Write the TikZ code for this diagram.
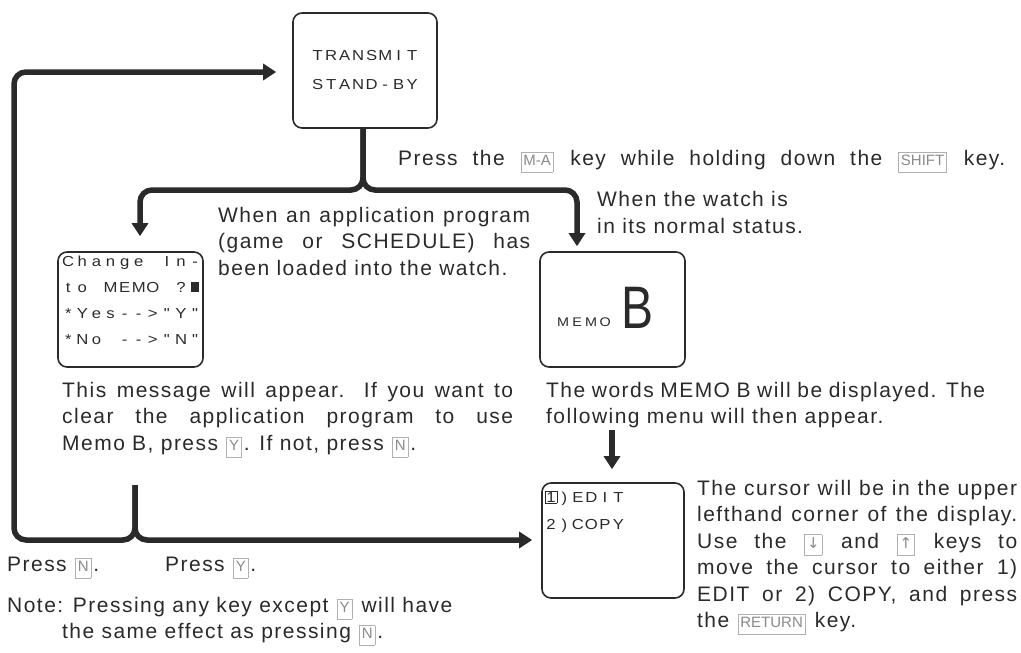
\documentclass[tikz,border=0pt]{standalone}
\usepackage{fontspec}
\setmainfont{Liberation Sans}
\newfontfamily\bodyf[LetterSpace=7]{Liberation Sans}
\newfontfamily\keyf{Liberation Sans}
\newfontfamily\symf{DejaVu Sans}
\newfontfamily\lcdf{Liberation Sans}
\usetikzlibrary{arrows.meta}
\definecolor{ink}{HTML}{2A2A2A}
\definecolor{keyline}{HTML}{B0B0B0}
\definecolor{keytext}{HTML}{8A8A8A}
\newcommand\kb[1]{\hspace{1pt}{\setlength\fboxsep{2pt}\setlength\fboxrule{0.7pt}\fcolorbox{keyline}{white}{\textcolor{keytext}{\keyf\fontsize{15}{15}\selectfont\strut #1}}}\hspace{2pt}}
\newcommand\jl[2]{\makebox[#1][s]{#2}}
\makeatletter
\newcommand\lcdline[2]{\@tfor\lcd@c:=#2\do{\makebox[#1]{\scalebox{1.15}[1]{\lcd@c}}}}
\makeatother
\newcommand\cur{\rule{7pt}{10pt}}
\newcommand\boxone{{\setlength\fboxsep{0.8pt}\setlength\fboxrule{0.6pt}\fbox{1}}}
\begin{document}
\begin{tikzpicture}[x=1pt,y=-1pt,
  txt/.style={inner sep=0pt, anchor=base west, align=left, text=ink,
    font=\bodyf\fontsize{21}{26.5}\selectfont},
  scr/.style={draw=ink, line width=1.6pt, rounded corners=9pt, minimum height=115pt},
  lcd/.style={inner sep=0pt, align=left, text=ink, font=\lcdf\fontsize{14.5}{26}\selectfont},
  conn/.style={draw=ink, line width=5.5pt, rounded corners=12pt, -{Triangle[width=16pt,length=13pt]}}]
\useasboundingbox (0,0) rectangle (1021,653);

% screens (multi-line nodes are placed by the baseline of their last line)
\node[scr, minimum width=144pt, align=center, text=ink, font=\lcdf\fontsize{14.5}{29}\selectfont] (tx) at (365,70.5)
  {\lcdline{13.5pt}{TRANSMIT}\\\lcdline{13.5pt}{STAND-BY}};
\node[scr, minimum width=145pt] (chg) at (130.5,309.5) {};
\node[lcd, anchor=base west] (chgt) at (61,344)
  {\lcdline{14.1pt}{Change~In-}\\\lcdline{14.1pt}{to~MEMO~?{\cur}}\\\lcdline{14.1pt}{*Yes-->"Y"}\\\lcdline{14.1pt}{*No~-->"N"}};
\node[scr, minimum width=145pt] (memo) at (612.5,309.5) {};
\node[lcd, anchor=base west, font=\lcdf\fontsize{12.5}{12}\selectfont] (memot) at (556,326) {\lcdline{14pt}{MEMO}};
\node[inner sep=0pt, anchor=base west, text=ink, font=\lcdf\fontsize{60}{60}\selectfont] (bigb) at (621,328) {\scalebox{0.8}[1]{B}};
\node[scr, minimum width=142pt] (menu) at (613,540.5) {};
\node[lcd, anchor=base west, font=\lcdf\fontsize{14.5}{27}\selectfont] (menut) at (544,529)
  {\lcdline{13.5pt}{{\boxone})EDIT}\\\lcdline{13.5pt}{2)COPY}};

% texts
\node[txt] (p1) at (398,165) {\jl{607pt}{Press the \kb{M-A} key while holding down the \kb{SHIFT} key.}};
\node[txt] (p2) at (218,275) {\jl{312pt}{When an application program}\\\jl{312pt}{(game or SCHEDULE) has}\\been loaded into the watch.};
\node[txt] (p3) at (597,233) {When the watch is\\in its normal status.};
\node[txt] (p4) at (62,450) {\jl{451pt}{This message will appear. If you want to}\\\jl{451pt}{clear the application program to use}\\Memo B, press \kb{Y}. If not, press \kb{N}.};
\node[txt] (p5) at (546,423.5) {\jl{439pt}{The words MEMO B will be displayed. The}\\following menu will then appear.};
\node[txt] (p6) at (7,571) {Press \kb{N}.};
\node[txt] (p7) at (165,571) {Press \kb{Y}.};
\node[txt] (p8) at (7,638.5) {Note: Pressing any key except \kb{Y} will have\\\hspace*{55pt}the same effect as pressing \kb{N}.};
\node[txt] (p9) at (697,627.5) {\jl{320pt}{The cursor will be in the upper}\\\jl{320pt}{lefthand corner of the display.}\\\jl{320pt}{Use the \kb{\symf ↓} and \kb{\symf ↑} keys to}\\\jl{320pt}{move the cursor to either 1)}\\\jl{320pt}{EDIT or 2) COPY, and press}\\the \kb{RETURN} key.};

% connectors
\coordinate (s) at (363,190);
\draw[conn, shorten >=15pt] (tx.south -| s) -- (s) -| ([xshift=9.5pt]chg.north);
\draw[conn, shorten >=5pt] (tx.south -| s) -- (s) -| ([xshift=-35.5pt]memo.north);
\coordinate (m0) at (612,430);
\draw[conn, shorten >=13pt] (m0) -- (menu.north -| m0);
\coordinate (b0) at (135,485);
\coordinate (b1) at (135,540);
\coordinate (l) at (14,72);
\draw[conn, shorten >=9pt] (b0) -- (b1) -- (menu.west |- b1);
\draw[conn, shorten >=16pt] (b0) -- (b1) -| (l) -- (l -| tx.west);
\end{tikzpicture}
\end{document}
